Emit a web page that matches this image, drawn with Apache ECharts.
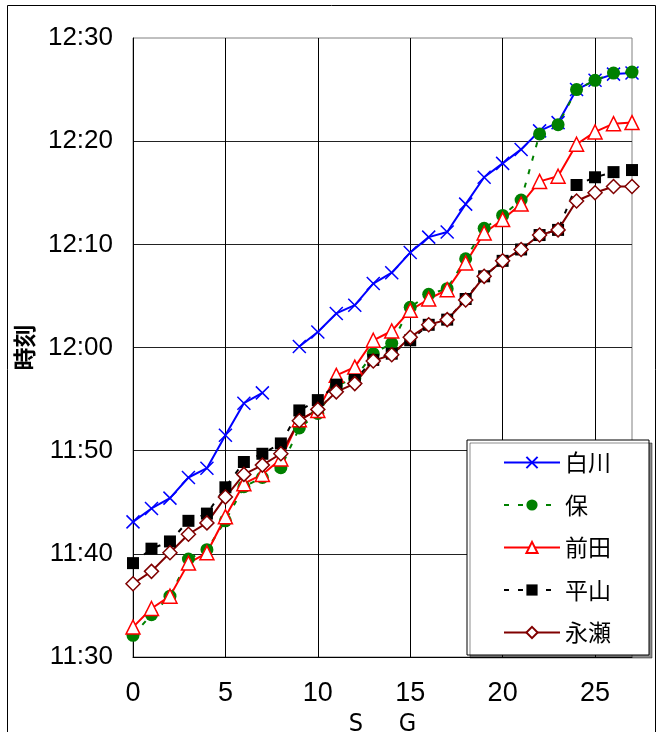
<!DOCTYPE html>
<html>
<head>
<meta charset="utf-8">
<script src="https://cdn.jsdelivr.net/npm/echarts@6/dist/echarts.min.js"></script>
<style>
html,body{margin:0;padding:0;background:#fff;}
#chart{width:659px;height:732px;}
</style>
</head>
<body>
<div id="chart"></div>
<script>
// x positions (section index) 0..27
const xValues = [0,1,2,3,4,5,6,7,8,9,10,11,12,13,14,15,16,17,18,19,20,21,22,23,24,25,26,27];
// times, in minutes after 11:30
const BASE_MIN = 690; // 11:30 as minutes after midnight
const shirakawa = [13.1,14.4,15.4,17.4,18.3,21.5,24.6,25.6,null,30.1,31.5,33.3,34.1,36.2,37.25,39.2,40.7,41.2,43.9,46.5,47.85,49.2,51.0,51.8,55.0,55.9,56.5,56.6];
const hoshi     = [2.1,4.1,5.9,9.5,10.4,13.2,16.5,17.4,18.35,22.2,23.6,26.3,27.0,29.4,30.4,33.9,35.15,35.7,38.6,41.55,42.8,44.3,50.7,51.6,55.0,55.9,56.6,56.7];
const maeda     = [2.9,4.7,5.9,9.1,10.1,13.6,16.8,17.7,19.2,23.0,23.9,27.3,28.1,30.7,31.6,33.6,34.7,35.6,38.2,41.1,42.4,43.9,46.1,46.6,49.7,50.9,51.7,51.8];
const hirayama  = [9.1,10.5,11.2,13.2,13.9,16.45,18.9,19.7,20.7,23.9,24.9,26.4,26.85,28.8,29.4,30.7,32.2,32.7,34.7,36.9,38.4,39.5,40.9,41.4,45.75,46.5,47.0,47.2];
const nagase    = [7.1,8.3,10.1,11.9,13.0,15.5,17.7,18.6,19.7,22.9,24.0,25.7,26.5,28.7,29.3,31.0,32.2,32.7,34.6,36.9,38.4,39.5,40.9,41.4,44.2,45.0,45.6,45.6];
const seriesNames = ['白川','保','前田','平山','永瀬'];
const yTickMin = 690, yTickMax = 750, yTickStep = 10;

function pairs(arr){ return xValues.map((x,i)=>[x, arr[i]==null ? null : BASE_MIN + arr[i]]); }
function fmtTime(v){ const h=Math.floor(v/60), m=Math.round(v%60); return h+':'+(m<10?'0':'')+m; }

const numFont = "'Liberation Sans Narrow','Liberation Sans',Arial,sans-serif";
const cjkFont = "'Noto Sans CJK JP','Noto Sans CJK SC',sans-serif";

const chart = echarts.init(document.getElementById('chart'));
chart.setOption({
  backgroundColor:'#fff',
  animation:false,
  graphic:[{type:'rect', silent:true, z:-10, shape:{x:7.5,y:5.5,width:648,height:760}, style:{fill:'none',stroke:'#000',lineWidth:1}}],
  grid:{left:133,right:27,top:38,bottom:75,show:true,borderColor:'#808080',borderWidth:1,backgroundColor:'transparent',
        containLabel:false, outerBoundsMode:'none'},
  legend:{
    orient:'vertical', left:467, top:440,
    padding:[11,38,11,36],
    itemWidth:56, itemHeight:14, itemGap:19.5,
    backgroundColor:'#fff', borderColor:'#000', borderWidth:1,
    shadowColor:'rgba(0,0,0,0.45)', shadowOffsetX:3, shadowOffsetY:3, shadowBlur:0,
    textStyle:{fontFamily:cjkFont, fontSize:23, lineHeight:23, color:'#000'},
    data:seriesNames
  },
  xAxis:{
    type:'value', min:0, max:27, interval:5,
    name:'S     G', nameLocation:'middle', nameGap:48,
    nameTextStyle:{fontFamily:"'DejaVu Sans Condensed','DejaVu Sans',sans-serif", fontSize:25, color:'#000'},
    axisLine:{show:true, lineStyle:{color:'#000',width:1}},
    axisTick:{show:false},
    axisLabel:{margin:23, fontFamily:numFont, fontSize:27, color:'#000', formatter:v=> (v%5===0? String(v):'')},
    splitLine:{show:true, showMaxLine:false, lineStyle:{color:'#000',width:1}}
  },
  yAxis:{
    type:'value', min:yTickMin, max:yTickMax, interval:yTickStep,
    name:'時刻', nameLocation:'middle', nameRotate:90, nameGap:97,
    nameTextStyle:{fontFamily:cjkFont, fontSize:23, fontWeight:'bold', color:'#000'},
    axisLine:{show:true, lineStyle:{color:'#000',width:1}},
    axisTick:{show:false},
    axisLabel:{margin:20, fontFamily:numFont, fontSize:26, color:'#000', formatter:fmtTime},
    splitLine:{show:true, showMaxLine:false, lineStyle:{color:'#222',width:1}}
  },
  series:[
    {name:'白川', type:'line', data:pairs(shirakawa), connectNulls:false,
     symbol:'path://M0,0L10,10M10,0L0,10', symbolSize:13,
     itemStyle:{color:'#0000ff', borderColor:'#0000ff', borderWidth:1.5},
     lineStyle:{color:'#0000ff', width:2}},
    {name:'保', type:'line', data:pairs(hoshi),
     symbol:'circle', symbolSize:13,
     itemStyle:{color:'#008000', borderColor:'#008000', borderWidth:0},
     lineStyle:{color:'#008000', width:2, type:[5,9]}},
    {name:'前田', type:'line', data:pairs(maeda),
     symbol:'triangle', symbolSize:14,
     itemStyle:{color:'#ffffff', borderColor:'#ff0000', borderWidth:1.5},
     lineStyle:{color:'#ff0000', width:2}},
    {name:'平山', type:'line', data:pairs(hirayama),
     symbol:'rect', symbolSize:12,
     itemStyle:{color:'#000000', borderColor:'#000000', borderWidth:0},
     lineStyle:{color:'#000000', width:2, type:[5,9]}},
    {name:'永瀬', type:'line', data:pairs(nagase),
     symbol:'diamond', symbolSize:14,
     itemStyle:{color:'#ffffff', borderColor:'#800000', borderWidth:1.5},
     lineStyle:{color:'#800000', width:2}}
  ]
});
</script>
</body>
</html>
